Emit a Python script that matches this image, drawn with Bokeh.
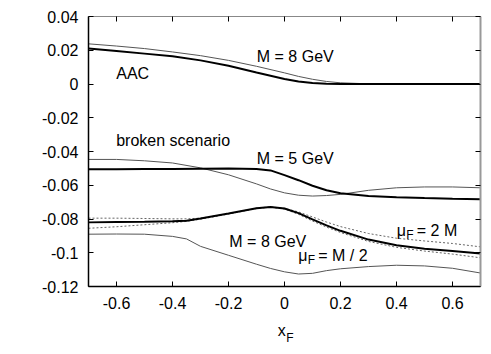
from bokeh.plotting import figure
from bokeh.layouts import column
from bokeh.models import LinearAxis, FixedTicker, CustomJSTickFormatter, Label, Range1d
from bokeh.embed import file_html
from bokeh.resources import INLINE

# AAC, M = 8 GeV
x_aac = [-0.7, -0.6, -0.5, -0.4, -0.3, -0.2, -0.1, 0.0, 0.05, 0.1, 0.15, 0.2, 0.3, 0.4, 0.5, 0.6, 0.7]
aac_thick = [0.021, 0.0195, 0.018, 0.0165, 0.014, 0.0108, 0.0068, 0.003, 0.0015, 0.0006, 0.0002, 0.0, 0.0, 0.0, 0.0, 0.0, 0.0]
aac_thin = [0.0238, 0.0225, 0.021, 0.019, 0.0168, 0.014, 0.0105, 0.0066, 0.0045, 0.0028, 0.0015, 0.0007, 0.0001, 0.0, 0.0, 0.0, 0.0]

# broken scenario, M = 5 GeV
x_m5 = [-0.7, -0.6, -0.5, -0.4, -0.3, -0.2, -0.1, -0.05, 0.0, 0.05, 0.1, 0.15, 0.2, 0.3, 0.4, 0.5, 0.6, 0.7]
m5_thick = [-0.0505, -0.0505, -0.0504, -0.0503, -0.0502, -0.0501, -0.0503, -0.0512, -0.054, -0.057, -0.0603, -0.063, -0.0648, -0.0664, -0.0671, -0.0676, -0.068, -0.0683]
m5_thin = [-0.0447, -0.0447, -0.0455, -0.0468, -0.0497, -0.0538, -0.0592, -0.0622, -0.0645, -0.0659, -0.0664, -0.0661, -0.0654, -0.063, -0.0615, -0.061, -0.061, -0.0615]

# broken scenario, M = 8 GeV
x_m8 = [-0.7, -0.6, -0.5, -0.4, -0.35, -0.3, -0.2, -0.1, -0.05, 0.0, 0.05, 0.1, 0.15, 0.2, 0.3, 0.4, 0.5, 0.6, 0.7]
m8_thick = [-0.082, -0.0818, -0.0816, -0.0813, -0.081, -0.0797, -0.0768, -0.0736, -0.0729, -0.0738, -0.0765, -0.0802, -0.0838, -0.087, -0.0922, -0.0955, -0.0976, -0.099, -0.1005]
m8_mu2 = [-0.0795, -0.0795, -0.0797, -0.0799, -0.0799, -0.0795, -0.0769, -0.0735, -0.0728, -0.0737, -0.0758, -0.0788, -0.0818, -0.0845, -0.0886, -0.0914, -0.093, -0.0945, -0.0965]
m8_muhalf = [-0.0855, -0.0846, -0.0834, -0.0822, -0.0814, -0.0801, -0.0771, -0.0738, -0.073, -0.0741, -0.0772, -0.0812, -0.0848, -0.088, -0.0933, -0.0968, -0.099, -0.1008, -0.103]
m8_thin = [-0.089, -0.0889, -0.089, -0.0903, -0.0918, -0.0962, -0.1015, -0.1068, -0.1093, -0.1113, -0.1126, -0.1122, -0.1106, -0.1095, -0.1082, -0.1074, -0.1078, -0.1092, -0.112]

x_ticks = [-0.6, -0.4, -0.2, 0.0, 0.2, 0.4, 0.6]
y_ticks = [-0.12, -0.1, -0.08, -0.06, -0.04, -0.02, 0.0, 0.02, 0.04]

FONT = "Liberation Sans"
LEFT = 88
FW, FH = 392, 270
PX_X = FW / 1.4      # pixels per x unit
PX_Y = FH / 0.16     # pixels per y unit

p = figure(frame_width=FW, frame_height=FH, output_backend="svg", toolbar_location=None,
           x_range=Range1d(-0.7, 0.7), y_range=Range1d(-0.12, 0.04),
           min_border_left=LEFT, min_border_top=16, min_border_bottom=30, min_border_right=2)
p.grid.visible = False
p.outline_line_color = "#777777"
p.outline_line_width = 1

fmt = CustomJSTickFormatter(code="""
var s = tick.toFixed(2);
if (s.indexOf('.') >= 0) { s = s.replace(/0+$/, '').replace(/\\.$/, ''); }
if (s == '-0') s = '0';
return s;
""")
blank = CustomJSTickFormatter(code="return '';")

def style_axis(ax, labels=True, color="black", width=1.5):
    ax.minor_tick_line_color = None
    ax.major_tick_in = 5
    ax.major_tick_out = 0
    ax.major_tick_line_color = "black"
    ax.axis_line_color = color
    ax.axis_line_width = width
    ax.major_label_text_font = FONT
    ax.major_label_text_font_size = "16px"
    ax.major_label_text_color = "black"
    if not labels:
        ax.formatter = blank
        ax.major_label_text_font_size = "0px"
        ax.major_label_standoff = 0

xa = p.xaxis[0]
xa.ticker = FixedTicker(ticks=x_ticks)
xa.formatter = fmt
style_axis(xa)
xa.major_label_standoff = 10

ya = p.yaxis[0]
ya.ticker = FixedTicker(ticks=y_ticks)
ya.formatter = fmt
style_axis(ya)
ya.major_label_standoff = 10

top = LinearAxis(ticker=FixedTicker(ticks=x_ticks))
style_axis(top, labels=False, color="#888888", width=1)
p.add_layout(top, "above")
right = LinearAxis(ticker=FixedTicker(ticks=y_ticks))
style_axis(right, labels=False, color="#999999", width=2)
p.add_layout(right, "right")

thin_col = "#555555"
p.line(x_aac, aac_thin, line_color=thin_col, line_width=1)
p.line(x_aac, aac_thick, line_color="black", line_width=2)
p.line(x_m5, m5_thin, line_color=thin_col, line_width=1)
p.line(x_m5, m5_thick, line_color="black", line_width=2)
p.line(x_m8, m8_mu2, line_color="#666666", line_width=1, line_dash="2 2")
p.line(x_m8, m8_muhalf, line_color="#666666", line_width=1, line_dash="2 2")
p.line(x_m8, m8_thin, line_color=thin_col, line_width=1)
p.line(x_m8, m8_thick, line_color="black", line_width=2)

def lab(fig, x, y, t, size="16px"):
    fig.add_layout(Label(x=x, y=y, text=t, text_font=FONT, text_font_size=size,
                         text_color="black", text_baseline="alphabetic", text_align="left"))

lab(p, -0.099, 0.0165, "M = 8 GeV")
lab(p, -0.601, 0.0061, "AAC")
lab(p, -0.601, -0.0334, "broken scenario")
lab(p, -0.099, -0.0439, "M = 5 GeV")
lab(p, -0.197, -0.0932, "M = 8 GeV")

def mu_label(x, y, rest):
    lab(p, x, y, "\u03bc")
    lab(p, x + 9.5 / PX_X, y - 4.5 / PX_Y, "F", size="12px")
    lab(p, x + 20 / PX_X, y, rest)

mu_label(0.401, -0.0871, "= 2 M")
mu_label(0.049, -0.1019, "= M / 2")

# strip below the plot for the axis title x_F
QH = 34
q = figure(frame_width=FW, frame_height=QH, output_backend="svg", toolbar_location=None,
           x_range=p.x_range, y_range=Range1d(0, QH),
           min_border_left=LEFT, min_border_right=2, min_border_top=0, min_border_bottom=0)
q.axis.visible = False
q.grid.visible = False
q.outline_line_color = None
x_title = -0.0243
lab(q, x_title, QH - 14, "x", size="16px")
lab(q, x_title + 8.5 / PX_X, QH - 21.7, "F", size="12px")

layout = column(p, q, spacing=0)
open("out.html", "w").write(file_html(layout, INLINE))
